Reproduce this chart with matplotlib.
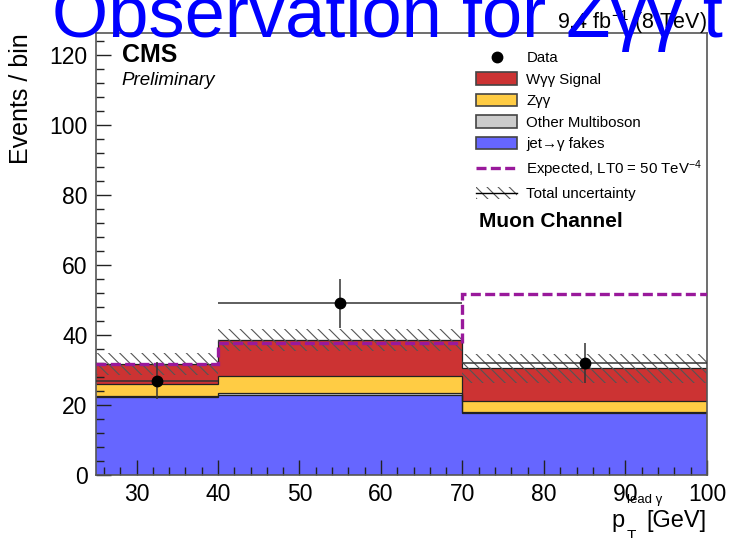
import matplotlib
matplotlib.use("Agg")
import matplotlib.pyplot as plt
from matplotlib.patches import Patch
from matplotlib.lines import Line2D
from matplotlib.ticker import MultipleLocator
import numpy as np

plt.rcParams["font.family"] = ["Liberation Sans", "DejaVu Sans"]
plt.rcParams["mathtext.fontset"] = "custom"
plt.rcParams["mathtext.rm"] = "Liberation Sans"
plt.rcParams["mathtext.it"] = "Liberation Sans:italic"
plt.rcParams["mathtext.bf"] = "Liberation Sans:bold"
plt.rcParams["hatch.linewidth"] = 0.8
plt.rcParams["hatch.color"] = "#555555"

# Binning in leading-photon pT [GeV]
edges = [25, 40, 70, 100]
bin_centers = [32.5, 55, 85]

# Stacked background / signal yields per bin
jet_fakes = [22.2, 22.8, 17.6]
other_multiboson = [0.4, 0.5, 0.3]
z_gg = [3.3, 5.1, 3.3]
w_gg_signal = [5.8, 10.1, 9.3]
total_unc = [3.2, 3.1, 4.1]

# Expected yield with anomalous coupling LT0 = 50 TeV^-4
expected_lt0 = [31.6, 37.7, 51.6]

# Observed events
data_counts = [27, 49, 32]

stack = [
    (jet_fakes, "#6666ff", "jet\u2192\u03b3 fakes"),
    (other_multiboson, "#cccccc", "Other Multiboson"),
    (z_gg, "#ffcc44", "Z\u03b3\u03b3"),
    (w_gg_signal, "#cc3333", "W\u03b3\u03b3 Signal"),
]

W, H = 731, 538
fig = plt.figure(figsize=(W / 100, H / 100), dpi=100)
ax = fig.add_axes([0.131, 0.117, 0.836, 0.822])


def fx(px):
    return px / W


def fy(py):
    return 1 - py / H


edges_arr = np.array(edges, dtype=float)
bottom = np.zeros(len(edges) - 1)
for vals, color, _ in stack:
    top = bottom + np.array(vals)
    ax.stairs(top, edges_arr, baseline=bottom, fill=True, facecolor=color,
              edgecolor="none", lw=0, zorder=1)
    ax.stairs(top, edges_arr, baseline=None, color="#222222", lw=0.9, zorder=2)
    bottom = top

total = bottom
unc = np.array(total_unc)
ax.stairs(total + unc, edges_arr, baseline=total - unc, fill=True,
          facecolor="none", edgecolor="#555555", hatch="\\\\\\", lw=0, zorder=3)

ax.stairs(expected_lt0, edges_arr, baseline=None, color="#99199b", lw=2.4,
          linestyle=(0, (3, 1.3)), zorder=4)

half_widths = np.diff(edges_arr) / 2
data_arr = np.array(data_counts, dtype=float)
ax.errorbar(bin_centers, data_arr, xerr=half_widths, yerr=np.sqrt(data_arr),
            fmt="o", color="black", ecolor="#333333", elinewidth=1.1,
            markersize=7.5, capsize=0, zorder=5)

ax.set_xlim(25, 100)
ax.set_ylim(0, 126.3)
ax.xaxis.set_major_locator(MultipleLocator(10))
ax.xaxis.set_minor_locator(MultipleLocator(2))
ax.yaxis.set_major_locator(MultipleLocator(20))
ax.yaxis.set_minor_locator(MultipleLocator(4))
ax.tick_params(which="both", direction="in", top=False, right=False,
               labelsize=16.5, color="#222222", width=1.0)
ax.tick_params(which="major", length=11, pad=6)
ax.tick_params(which="minor", length=5.5)
for sp in ax.spines.values():
    sp.set_color("#555555")
    sp.set_linewidth(1.2)

ax.set_ylabel("Events / bin", fontsize=18, loc="top")
ax.yaxis.set_label_coords(-0.103, 1.0)

# x-axis title: p_T with a small "lead γ" superscript, then the unit
fig.text(fx(611), fy(527), "p", fontsize=17, va="baseline", ha="left")
fig.text(fx(627), fy(540), "T", fontsize=11, va="baseline", ha="left")
fig.text(fx(627), fy(503), "lead \u03b3", fontsize=9.5, va="baseline", ha="left")
fig.text(fx(707), fy(527), "[GeV]", fontsize=17, va="baseline", ha="right")

ax.text(0.0426, 0.934, "CMS", transform=ax.transAxes, fontsize=18,
        fontweight="bold", va="baseline")
ax.text(0.0426, 0.882, "Preliminary", transform=ax.transAxes, fontsize=13.5,
        fontstyle="italic", va="baseline")
ax.text(0.627, 0.561, "Muon Channel", transform=ax.transAxes, fontsize=15,
        fontweight="bold", va="baseline")
fig.text(fx(707), fy(29), r"9.4 fb$^{-1}$ (8 TeV)", fontsize=15.5,
         ha="right", va="baseline")

handles = [
    Line2D([], [], marker="o", color="black", ls="none", markersize=7.5),
    Patch(facecolor="#cc3333", edgecolor="#444444", lw=1.2),
    Patch(facecolor="#ffcc44", edgecolor="#444444", lw=1.2),
    Patch(facecolor="#cccccc", edgecolor="#444444", lw=1.2),
    Patch(facecolor="#6666ff", edgecolor="#444444", lw=1.2),
    Line2D([], [], color="#99199b", lw=2.4, linestyle=(0, (3, 1.3))),
    (Patch(facecolor="none", edgecolor="#555555", hatch="\\\\\\", lw=0),
     Line2D([], [], color="black", lw=1.0)),
]
labels = ["Data", "W\u03b3\u03b3 Signal", "Z\u03b3\u03b3", "Other Multiboson",
          "jet\u2192\u03b3 fakes", r"Expected, LT0 = 50 TeV$^{-4}$",
          "Total uncertainty"]
fig.legend(handles, labels, loc="upper left",
           bbox_to_anchor=(fx(476), fy(51)), frameon=False,
           fontsize=10.8, handlelength=2.75, handleheight=0.9,
           labelspacing=0.47, handletextpad=0.6, borderpad=0,
           borderaxespad=0)

fig.text(fx(52), fy(37), "Observation for Z\u03b3\u03b3 t",
         fontsize=52, color="#0000ff", va="baseline", ha="left")

fig.savefig("out.png", dpi=100)
